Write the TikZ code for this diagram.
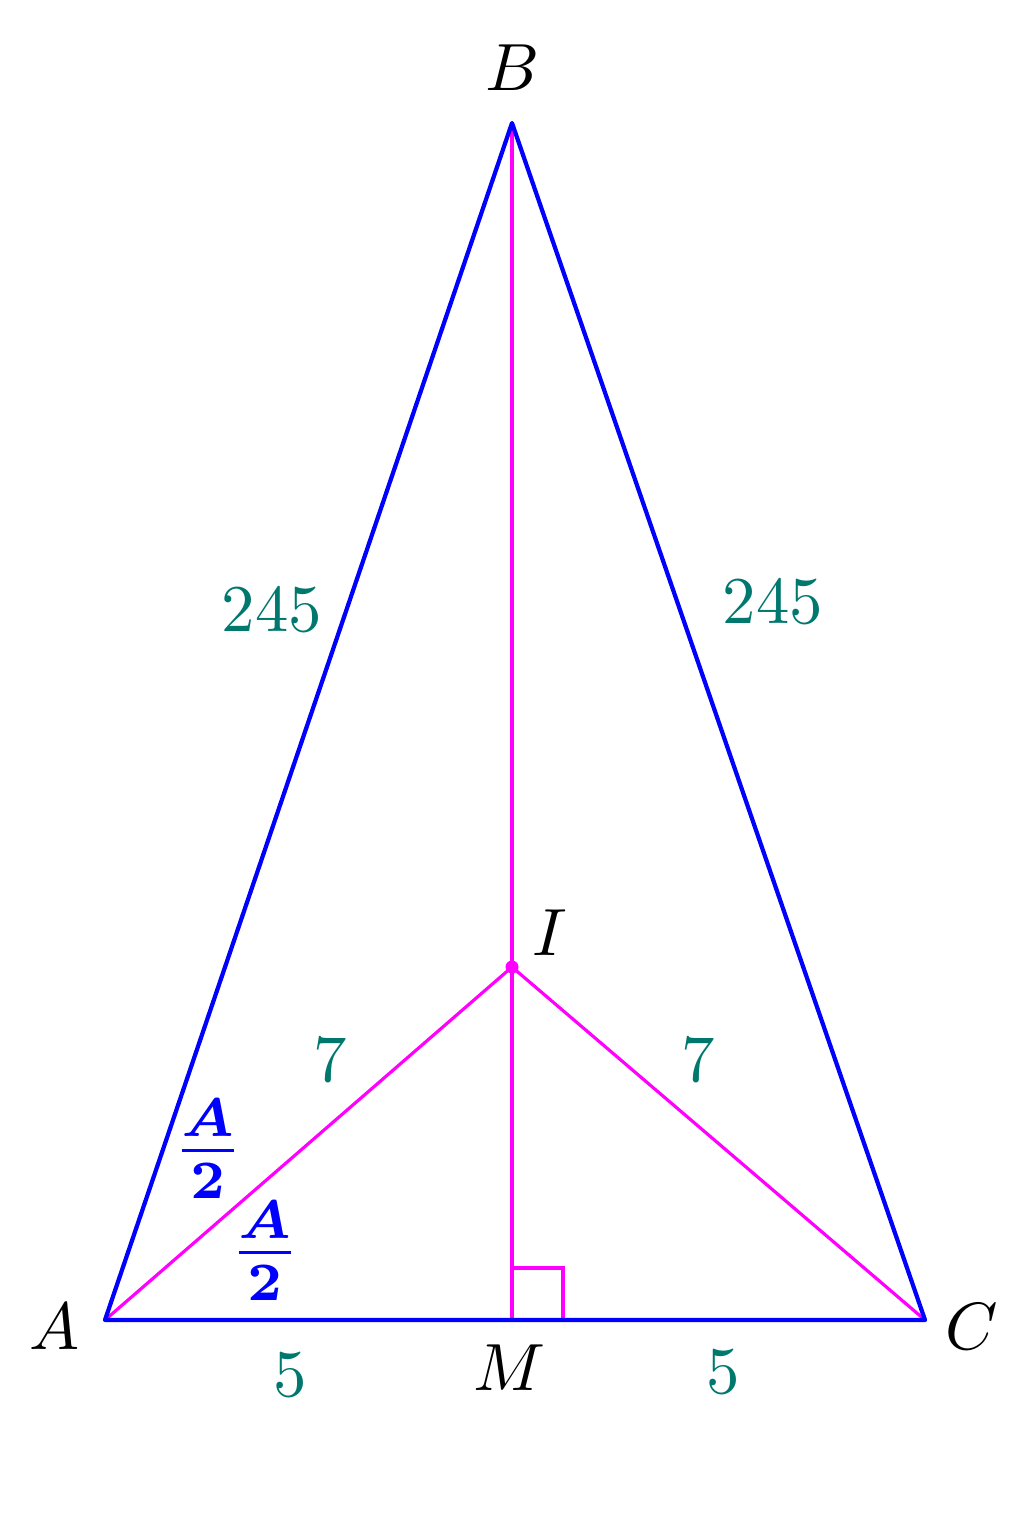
\documentclass[tikz,border=0pt]{standalone}
\usepackage{amsmath,bm}
\usetikzlibrary{calc}
\definecolor{sidegreen}{RGB}{0,120,110}
\definecolor{linkmag}{RGB}{255,0,255}
\definecolor{sideblue}{RGB}{0,0,255}
\tikzset{
	side/.style={draw=sideblue, line width=1.2pt},
	inner/.style={draw=linkmag, line width=0.9pt},
	lbl/.style={scale=1.9, inner sep=0pt},
	num/.style={lbl, text=sidegreen},
	half/.style={scale=2.2, inner sep=0pt, text=sideblue}
}

\begin{document}
\begin{tikzpicture}[x=0.1mm, y=-0.1mm]
		%%%%% START %%%%%
		\useasboundingbox (0, 0) rectangle (1023, 1537);
		
		\coordinate (A) at (105, 1320);
		\coordinate (B) at (512, 123);
		\coordinate (C) at (925, 1320);
		\coordinate (M) at (512, 1320);
		\coordinate (I) at (512, 967);
		
		\draw[inner] (B) -- (M);
		\draw[inner] (A) -- (I) -- (C);
		\draw[inner] ($(M)+(0, -52)$) -- ($(M)+(51, -52)$) -- ($(M)+(51, 0)$);
		\fill[linkmag] (I) circle (6.5);
		
		\draw[side, line join=round] (A) -- (B) -- (C) -- cycle;
		
		\node[lbl] (lA) at (55, 1327) {$A$};
		\node[lbl] (lB) at (512, 68) {$B$};
		\node[lbl] (lC) at (972, 1327) {$C$};
		\node[lbl] (lM) at (510, 1368) {$M$};
		\node[lbl] (lI) at (550, 933) {$I$};
		
		\node[num] (ab) at (272, 610) {$245$};
		\node[num] (bc) at (773, 602) {$245$};
		\node[num] (ai) at (330, 1060) {$7$};
		\node[num] (ci) at (698, 1060) {$7$};
		\node[num] (am) at (290, 1375) {$5$};
		\node[num] (mc) at (723, 1372) {$5$};
		
		\node[half] (h1) at (208, 1149) {$\boldsymbol{\tfrac{A}{2}}$};
		\node[half] (h2) at (265, 1251) {$\boldsymbol{\tfrac{A}{2}}$};
		%%%%% END %%%%%
\end{tikzpicture}
\end{document}
